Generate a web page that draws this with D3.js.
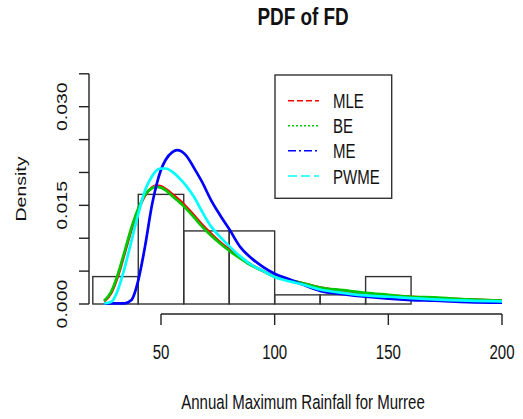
<!DOCTYPE html>
<html><head><meta charset="utf-8">
<script src="https://cdn.jsdelivr.net/npm/d3@7"></script>
<style>body{margin:0;background:#fff}</style>
</head><body>
<svg id="c" width="523" height="419"></svg>
<script>
// ---- data ----
const binEdges = [20,40,60,80,100,120,140,160];
const binCounts = [3,12,8,8,1,1,3];
const nObs = 36;
const xGrid = [25,28,31,34,37,40,43,46,48,50,52,55,57,59,61,65,68,72,76,80,85,90,95,100,107,112,120,130,140,150,160,170,185,200];
const mle  = [0.0004,0.0016,0.0042,0.0077,0.0113,0.0143,0.0165,0.0177,0.0180,0.0179,0.0175,0.0167,0.0161,0.0155,0.0148,0.0133,0.0121,0.0107,0.0094,0.0083,0.0070,0.0059,0.0050,0.0042,0.0036,0.0032,0.0025,0.0020,0.0016,0.0013,0.0011,0.0009,0.0007,0.0005];
const be   = [0.0005,0.0018,0.0045,0.0080,0.0116,0.0145,0.0166,0.0176,0.0178,0.0177,0.0173,0.0164,0.0158,0.0152,0.0145,0.0130,0.0118,0.0104,0.0092,0.0081,0.0069,0.0058,0.0050,0.0041,0.0036,0.0032,0.0025,0.0021,0.0017,0.0014,0.0011,0.0010,0.0007,0.0005];
const me   = [0.0001,0.0001,0.0001,0.0001,0.0006,0.0036,0.0088,0.0150,0.0181,0.0204,0.0219,0.0231,0.0234,0.0232,0.0226,0.0204,0.0186,0.0158,0.0135,0.0114,0.0086,0.0069,0.0056,0.0046,0.0037,0.0030,0.0020,0.0015,0.0011,0.0008,0.0006,0.0005,0.0003,0.0002];
const pwme = [0.0001,0.0003,0.0021,0.0055,0.0096,0.0137,0.0173,0.0194,0.0203,0.0206,0.0206,0.0201,0.0195,0.0188,0.0180,0.0160,0.0141,0.0118,0.0102,0.0088,0.0072,0.0059,0.0050,0.0041,0.0034,0.0030,0.0022,0.0017,0.0013,0.0011,0.0009,0.0007,0.0005,0.0004];
const seriesNames = ["MLE","BE","ME","PWME"];
const seriesColors = ["#ff0000","#00c800","#0000ff","#00ffff"];
const seriesDash = ["6,3","2,2","8,3,2,3","9,4"];
const xTicks = [50,100,150,200];
const yTicks = [0,0.005,0.010,0.015,0.020,0.025,0.030,0.035];
const yLabels = [0,0.015,0.030];

// ---- drawing ----
const svg = d3.select("#c");
const SX = 0.77;
const x = d3.scaleLinear().domain([50,200]).range([161,502]);
const y = d3.scaleLinear().domain([0,0.030]).range([304,106.7]);
const ink = "#222";
const font = "Liberation Sans, Arial, sans-serif";

function label(txt, px, py, opts={}) {
  const rot = opts.rotate ? " rotate(-90)" : "";
  return svg.append("text")
    .attr("transform", `translate(${px},${py}) scale(${SX},1)${rot}`)
    .attr("text-anchor", opts.anchor || "middle")
    .attr("font-family", font)
    .attr("font-size", opts.size || 19.5)
    .attr("font-weight", opts.bold ? "bold" : "normal")
    .attr("fill", "#111")
    .text(txt);
}

// histogram
const bins = binCounts.map((c,i)=>({x0:binEdges[i], x1:binEdges[i+1], d:c/(nObs*(binEdges[i+1]-binEdges[i]))}));
svg.append("g").selectAll("rect").data(bins).join("rect")
  .attr("x", d=>x(d.x0)).attr("width", d=>x(d.x1)-x(d.x0))
  .attr("y", d=>y(d.d)).attr("height", d=>y(0)-y(d.d))
  .attr("fill","none").attr("stroke","#333").attr("stroke-width",1.4);

// curves
const allSeries = [mle, be, me, pwme];
const line = d3.line().x((d,i)=>x(xGrid[i])).y(d=>y(d)).curve(d3.curveMonotoneX);
allSeries.forEach((s,k)=>{
  svg.append("path").datum(s).attr("d", line)
    .attr("fill","none").attr("stroke", seriesColors[k])
    .attr("stroke-width", 2.7).attr("stroke-linejoin","round");
});

// x axis
const xAxisY = 314;
svg.append("line").attr("x1", x(xTicks[0])).attr("x2", x(xTicks[xTicks.length-1]))
  .attr("y1", xAxisY).attr("y2", xAxisY).attr("stroke", ink).attr("stroke-width",1.4);
xTicks.forEach(t=>{
  svg.append("line").attr("x1", x(t)).attr("x2", x(t)).attr("y1", xAxisY).attr("y2", xAxisY+11)
    .attr("stroke", ink).attr("stroke-width",1.4);
  label(String(t), x(t), 359);
});

// y axis
const yAxisX = 89;
svg.append("line").attr("x1", yAxisX).attr("x2", yAxisX)
  .attr("y1", y(yTicks[0])).attr("y2", y(yTicks[yTicks.length-1])).attr("stroke", ink).attr("stroke-width",1.4);
yTicks.forEach(t=>{
  svg.append("line").attr("x1", yAxisX-10).attr("x2", yAxisX).attr("y1", y(t)).attr("y2", y(t))
    .attr("stroke", ink).attr("stroke-width",1.4);
});
yLabels.forEach(t=>{
  label(d3.format(".3f")(t), 67, y(t), {rotate:true});
});

// titles
label("PDF of FD", 303, 25, {bold:true, size:24.5});
label("Annual Maximum Rainfall for Murree", 303, 409);
label("Density", 26, 189, {rotate:true});

// legend
svg.append("rect").attr("x",275).attr("y",75).attr("width",116.7).attr("height",123.3)
  .attr("fill","#fff").attr("stroke","#333").attr("stroke-width",1.4);
const rowY = [100.7,125.8,150.8,176];
seriesNames.forEach((n,k)=>{
  svg.append("line").attr("x1",288).attr("x2",319).attr("y1",rowY[k]).attr("y2",rowY[k])
    .attr("stroke", seriesColors[k]).attr("stroke-width",1.5).attr("stroke-dasharray", seriesDash[k]);
  label(n, 333, rowY[k]+7.5, {anchor:"start"});
});
</script>
</body></html>
